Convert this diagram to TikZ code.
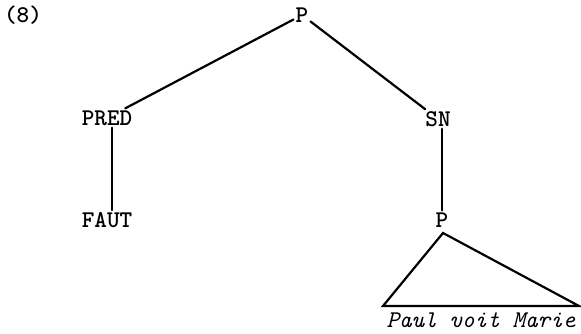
\documentclass[tikz,border=0pt]{standalone}
\usepackage{fontspec}
\begin{document}
\begin{tikzpicture}[x=1pt,y=1pt,
  lab/.style={font=\ttfamily\bfseries\fontsize{24}{27}\selectfont, inner sep=2pt},
  edge/.style={line width=2.2pt, line cap=round}]
\useasboundingbox (0,0) rectangle (581,-334);
\node[lab] (num) at (23,-15) {(8)};
\node[lab] (P) at (302,-15) {P};
\node[lab] (PRED) at (107,-118) {PRED};
\node[lab] (SN) at (438,-119) {SN};
\node[lab] (FAUT) at (107,-220) {FAUT};
\node[lab] (P2) at (442,-220) {P};
\coordinate (apex) at (443,-233);
\coordinate (bl) at (383,-306);
\coordinate (br) at (579,-306);
\node[lab, font=\ttfamily\itshape\fontsize{24}{27}\selectfont] (words) at (481,-320) {Paul voit Marie};
\draw[edge] (P) -- (PRED);
\draw[edge] (P) -- (SN);
\draw[edge] ([xshift=5pt]PRED.south) -- ([xshift=5pt]FAUT.north);
\draw[edge] (SN.south -| P2) -- (P2.north);
\draw[edge, line join=miter] (apex) -- (bl) -- (br) -- cycle;
\end{tikzpicture}
\end{document}
